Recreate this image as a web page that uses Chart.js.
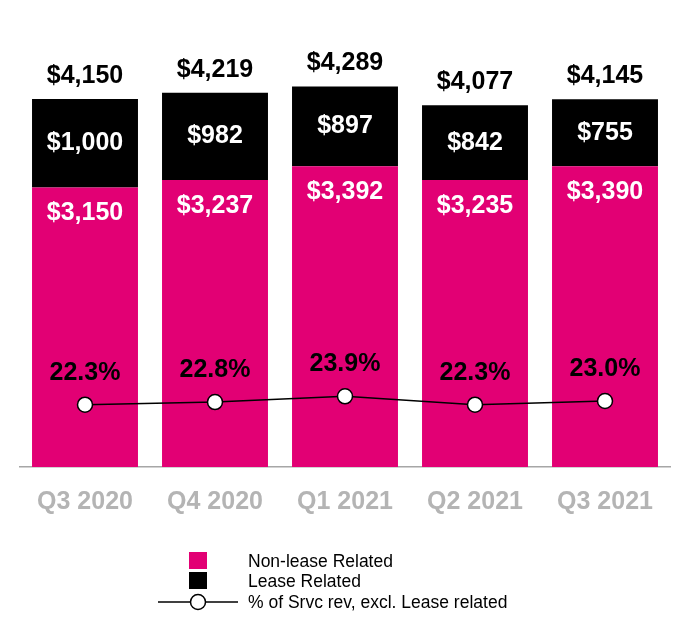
<!DOCTYPE html>
<html>
<head>
<meta charset="utf-8">
<script src="https://cdn.jsdelivr.net/npm/chart.js@4.4.1/dist/chart.umd.min.js"></script>
<style>
    body { margin: 0; background: #fff; font-family: "Liberation Sans", Arial, sans-serif; }
    #wrap { position: relative; width: 690px; height: 640px; }
    .legend { position: absolute; left: 0; top: 0; width: 690px; height: 640px; pointer-events: none; }
    .sw { position: absolute; width: 18px; height: 17px; }
    .txt { position: absolute; left: 248px; font-size: 17.5px; line-height: 20px; color: #000; white-space: nowrap; }
</style>
</head>
<body>
<div id="wrap">
    <canvas id="myChart"></canvas>
    <div class="legend">
        <div class="sw" style="left:189px; top:552px; background:#e20074;"></div>
        <div class="txt" style="top:551px;">Non-lease Related</div>
        <div class="sw" style="left:189px; top:572px; background:#000;"></div>
        <div class="txt" style="top:571px;">Lease Related</div>
        <svg style="position:absolute; left:156px; top:592px;" width="86" height="20">
            <line x1="2" y1="10" x2="82" y2="10" stroke="#000" stroke-width="1.5"></line>
            <circle cx="42" cy="10" r="7.5" fill="#fff" stroke="#000" stroke-width="1.5"></circle>
        </svg>
        <div class="txt" style="top:592px;">% of Srvc rev, excl. Lease related</div>
    </div>
</div>
<script>
const QUARTERS = ['Q3 2020', 'Q4 2020', 'Q1 2021', 'Q2 2021', 'Q3 2021'];
const NON_LEASE = [3150, 3237, 3392, 3235, 3390];
const LEASE = [1000, 982, 897, 842, 755];
const PCT_SRVC = [22.3, 22.8, 23.9, 22.3, 23.0];

const MAGENTA = '#e20074';
const LABEL_FONT = 'bold 25px "Liberation Sans", Arial, sans-serif';

function money(v) {
    return '$' + v.toLocaleString('en-US');
}

const barLabels = {
    id: 'barLabels',
    afterDatasetsDraw(chart) {
        const ctx = chart.ctx;
        const bottomBars = chart.getDatasetMeta(0).data;
        const topBars = chart.getDatasetMeta(1).data;
        const points = chart.getDatasetMeta(2).data;
        ctx.save();
        ctx.font = LABEL_FONT;
        ctx.textAlign = 'center';
        ctx.textBaseline = 'middle';
        QUARTERS.forEach((q, i) => {
            const b = bottomBars[i];
            const t = topBars[i];
            ctx.fillStyle = '#fff';
            ctx.fillText(money(NON_LEASE[i]), b.x, b.y + 26);
            ctx.fillText(money(LEASE[i]), t.x, (t.y + t.base) / 2);
            ctx.fillStyle = '#000';
            ctx.fillText(money(NON_LEASE[i] + LEASE[i]), t.x, t.y - 23);
            ctx.fillText(PCT_SRVC[i].toFixed(1) + '%', points[i].x, points[i].y - 32);
        });
        ctx.restore();
    }
};

const ctx = document.getElementById('myChart');
const myChart = new Chart(ctx, {
    type: 'bar',
    data: {
        labels: QUARTERS,
        datasets: [
            {
                label: 'Non-lease Related',
                data: NON_LEASE,
                backgroundColor: MAGENTA,
                order: 1
            },
            {
                label: 'Lease Related',
                data: LEASE,
                backgroundColor: '#000',
                order: 1
            },
            {
                type: 'line',
                label: '% of Srvc rev, excl. Lease related',
                data: PCT_SRVC,
                yAxisID: 'y1',
                borderColor: '#000',
                borderWidth: 1.5,
                pointRadius: 7.5,
                pointBackgroundColor: '#fff',
                pointBorderColor: '#000',
                pointBorderWidth: 1.5,
                tension: 0,
                order: 0
            }
        ]
    },
    options: {
        responsive: true,
        maintainAspectRatio: false,
        animation: false,
        datasets: {
            bar: {
                categoryPercentage: 1,
                barPercentage: 0.815
            }
        },
        layout: {
            padding: { top: 23.5, left: 20, right: 20, bottom: 103 }
        },
        plugins: {
            legend: { display: false },
            tooltip: { enabled: false }
        },
        scales: {
            x: {
                stacked: true,
                grid: { display: false, drawTicks: false },
                border: { display: true, color: '#a6a6a6', width: 1.5 },
                ticks: {
                    color: '#b4b4b4',
                    padding: 20,
                    font: { family: '"Liberation Sans", Arial, sans-serif', size: 25, weight: 'bold' }
                }
            },
            y: {
                stacked: true,
                display: false,
                min: 0,
                max: 5000
            },
            y1: {
                display: false,
                min: 10.4,
                max: 95.1
            }
        }
    },
    plugins: [barLabels]
});
</script>
</body>
</html>
